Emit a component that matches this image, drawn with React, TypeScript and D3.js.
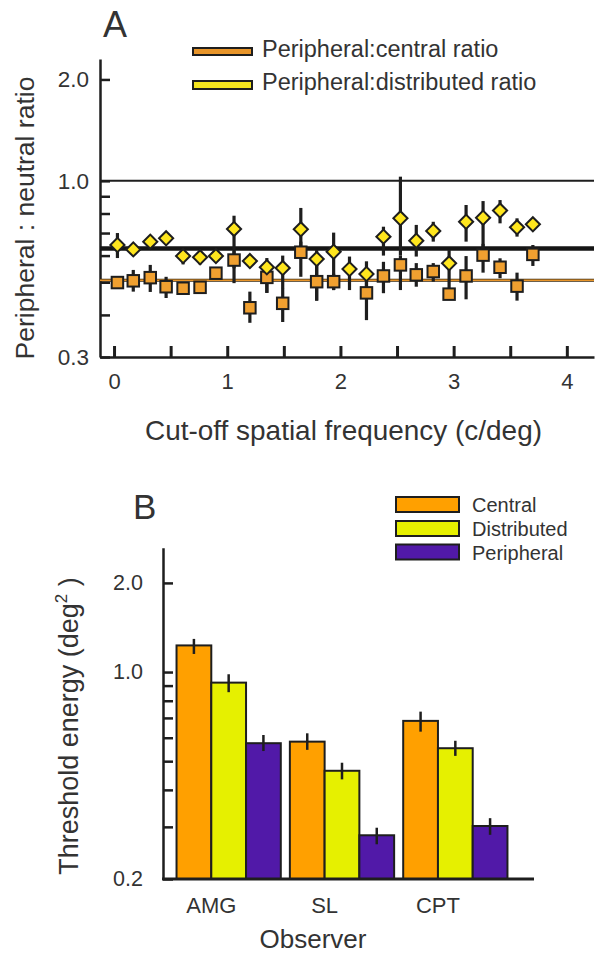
import React, { useEffect, useRef } from 'react';
import * as d3 from 'd3';

const FONT = '"Liberation Sans", Arial, Helvetica, sans-serif';
const INK = '#1e1e1e';
const TEXT = '#333';

// ---- panel A: peripheral : neutral ratio vs cut-off frequency ----
const cutoffs = [0.03, 0.17, 0.32, 0.46, 0.61, 0.76, 0.9, 1.06, 1.2, 1.35, 1.49, 1.65, 1.79, 1.94, 2.08, 2.23, 2.38, 2.53, 2.67, 2.82, 2.96, 3.11, 3.26, 3.41, 3.56, 3.7];

// peripheral:central (squares), null = not measured
const centralRatio = [0.499, 0.505, 0.516, 0.485, 0.48, 0.483, 0.532, 0.582, 0.42, 0.517, 0.433, 0.614, 0.502, 0.502, null, 0.465, 0.522, 0.563, 0.526, 0.538, 0.461, 0.522, 0.602, 0.554, 0.487, 0.605];
const centralLo = [0.49, 0.469, 0.468, 0.449, 0.47, 0.475, 0.52, 0.55, 0.379, 0.465, 0.381, 0.519, 0.441, 0.474, null, 0.386, 0.464, 0.474, 0.485, 0.502, 0.443, 0.445, 0.534, 0.514, 0.441, 0.559];
const centralHi = [0.51, 0.544, 0.563, 0.519, 0.49, 0.49, 0.54, 0.62, 0.469, 0.54, 0.481, 0.66, 0.57, 0.53, null, 0.5, 0.575, 0.6, 0.57, 0.57, 0.48, 0.598, 0.65, 0.589, 0.534, 0.645];

// peripheral:distributed (diamonds)
const distRatio = [0.645, 0.626, 0.66, 0.675, 0.598, 0.593, 0.598, 0.72, 0.578, 0.554, 0.551, 0.718, 0.586, 0.616, 0.547, 0.529, 0.683, 0.774, 0.664, 0.71, 0.569, 0.756, 0.777, 0.816, 0.728, 0.743];
const distLo = [0.59, 0.61, 0.64, 0.66, 0.565, 0.565, 0.58, 0.497, 0.56, 0.465, 0.48, 0.62, 0.441, 0.474, 0.474, 0.45, 0.6, 0.6, 0.596, 0.66, 0.48, 0.66, 0.62, 0.748, 0.683, 0.72];
const distHi = [0.7, 0.64, 0.68, 0.69, 0.61, 0.61, 0.61, 0.788, 0.59, 0.59, 0.6, 0.831, 0.623, 0.702, 0.596, 0.577, 0.731, 1.029, 0.74, 0.756, 0.623, 0.848, 0.871, 0.877, 0.774, 0.76];

const distMean = 0.63;
const centralMean = 0.507;

const xTicksA = [0, 0.5, 1, 1.5, 2, 2.5, 3, 3.5, 4];
const yTicksA = [0.3, 0.4, 0.5, 0.6, 0.7, 0.8, 0.9, 1, 2];
const yLabelsA = [0.3, 1, 2];
const legendA = ['Peripheral:central ratio', 'Peripheral:distributed ratio'];

// ---- panel B: threshold energy per observer ----
const observers = ['AMG', 'SL', 'CPT'];
const conditions = ['Central', 'Distributed', 'Peripheral'];
const energy = [
  [1.23, 0.582, 0.684],
  [0.921, 0.464, 0.553],
  [0.575, 0.281, 0.302],
];
const energyLo = [
  [1.151, 0.546, 0.629],
  [0.855, 0.434, 0.521],
  [0.541, 0.262, 0.282],
];
const energyHi = [
  [1.294, 0.621, 0.735],
  [0.983, 0.494, 0.586],
  [0.613, 0.298, 0.321],
];
const yTicksB = [0.2, 0.3, 0.4, 0.5, 0.6, 0.7, 0.8, 0.9, 1, 2];
const yLabelsB = [0.2, 1, 2];

const colorsB = ['#FFA000', '#E6F000', '#5119A8'];
const squareFill = '#F0A030';
const diamondFill = '#FFE61E';

const styleAxis = (g, fontSize) => {
  g.attr('font-family', FONT).attr('font-size', fontSize);
  g.select('.domain').attr('stroke', INK).attr('stroke-width', 2.5);
  g.selectAll('.tick line').attr('stroke', INK).attr('stroke-width', 2.5);
  g.selectAll('.tick text').attr('fill', TEXT);
};

const App = () => {
  const chartRef = useRef(null);

  useEffect(() => {
    drawChart();
  }, []);

  const drawChart = () => {
    const svg = d3.select(chartRef.current);
    svg.selectAll('*').remove();

    // ================= panel A =================
    const x = d3.scaleLinear().domain([-0.124, 4.24]).range([100, 594]);
    const y = d3.scaleLog().domain([0.3, 2.3]).range([357, 59]);

    svg.append('text')
      .attr('x', 103).attr('y', 37)
      .attr('font-family', FONT).attr('font-size', 36).attr('fill', TEXT)
      .text('A');

    const gx = svg.append('g')
      .attr('transform', `translate(0,${y(0.3)})`)
      .call(d3.axisBottom(x).tickValues(xTicksA).tickSizeInner(-11).tickSizeOuter(0).tickPadding(16)
        .tickFormat(d => (Number.isInteger(d) ? String(d) : '')));
    styleAxis(gx, 22);
    gx.selectAll('.tick line').attr('stroke-width', 3);

    const gy = svg.append('g')
      .attr('transform', `translate(${x.range()[0]},0)`)
      .call(d3.axisLeft(y).tickValues(yTicksA).tickSizeInner(-10).tickSizeOuter(0).tickPadding(11)
        .tickFormat(d => (yLabelsA.includes(d) ? d.toFixed(1) : '')));
    styleAxis(gy, 22.5);

    // reference line at 1.0
    svg.append('line')
      .attr('x1', x.range()[0]).attr('x2', x.range()[1])
      .attr('y1', y(1)).attr('y2', y(1))
      .attr('stroke', INK).attr('stroke-width', 2);

    // mean ratio lines
    svg.append('line')
      .attr('x1', x.range()[0]).attr('x2', x.range()[1])
      .attr('y1', y(distMean)).attr('y2', y(distMean))
      .attr('stroke', '#151515').attr('stroke-width', 4.5);
    svg.append('line')
      .attr('x1', x.range()[0]).attr('x2', x.range()[1])
      .attr('y1', y(centralMean)).attr('y2', y(centralMean))
      .attr('stroke', '#3a2a10').attr('stroke-width', 3.2);
    svg.append('line')
      .attr('x1', x.range()[0]).attr('x2', x.range()[1])
      .attr('y1', y(centralMean)).attr('y2', y(centralMean))
      .attr('stroke', '#E8952A').attr('stroke-width', 1.4);

    const pts = cutoffs.map((f, i) => ({
      f,
      c: centralRatio[i], cLo: centralLo[i], cHi: centralHi[i],
      d: distRatio[i], dLo: distLo[i], dHi: distHi[i],
    }));

    // error bars
    svg.append('g').selectAll('line.eb-d')
      .data(pts)
      .enter().append('line')
      .attr('x1', d => x(d.f)).attr('x2', d => x(d.f))
      .attr('y1', d => y(d.dLo)).attr('y2', d => y(d.dHi))
      .attr('stroke', INK).attr('stroke-width', 3.2);
    svg.append('g').selectAll('line.eb-c')
      .data(pts.filter(d => d.c != null))
      .enter().append('line')
      .attr('x1', d => x(d.f)).attr('x2', d => x(d.f))
      .attr('y1', d => y(d.cLo)).attr('y2', d => y(d.cHi))
      .attr('stroke', INK).attr('stroke-width', 3.2);

    // squares
    const sq = 11.5;
    svg.append('g').selectAll('rect')
      .data(pts.filter(d => d.c != null))
      .enter().append('rect')
      .attr('x', d => x(d.f) - sq / 2).attr('y', d => y(d.c) - sq / 2)
      .attr('width', sq).attr('height', sq)
      .attr('fill', squareFill).attr('stroke', INK).attr('stroke-width', 2);

    // diamonds
    const diamond = d3.symbol().type(d3.symbolSquare).size(100);
    svg.append('g').selectAll('path')
      .data(pts)
      .enter().append('path')
      .attr('d', diamond)
      .attr('transform', d => `translate(${x(d.f)},${y(d.d)}) rotate(45)`)
      .attr('fill', diamondFill).attr('stroke', INK).attr('stroke-width', 2);

    // legend A
    const legA = svg.append('g');
    [['#E8952A', 48, 7], ['#F5E51E', 81, 8]].forEach(([c, top, h], i) => {
      legA.append('rect')
        .attr('x', 193).attr('y', top).attr('width', 59).attr('height', h)
        .attr('fill', c).attr('stroke', INK).attr('stroke-width', 2);
      legA.append('text')
        .attr('x', 262).attr('y', i === 0 ? 57 : 89.5)
        .attr('font-family', FONT).attr('font-size', 23.5).attr('fill', TEXT)
        .text(legendA[i]);
    });

    svg.append('text')
      .attr('x', 343.5).attr('y', 440)
      .attr('text-anchor', 'middle')
      .attr('font-family', FONT).attr('font-size', 27.5).attr('fill', TEXT)
      .attr('textLength', 397).attr('lengthAdjust', 'spacingAndGlyphs')
      .text('Cut-off spatial frequency (c/deg)');

    svg.append('text')
      .attr('transform', 'translate(34,218) rotate(-90)')
      .attr('text-anchor', 'middle')
      .attr('font-family', FONT).attr('font-size', 26.5).attr('fill', TEXT)
      .text('Peripheral : neutral ratio');

    // ================= panel B =================
    const yB = d3.scaleLog().domain([0.2, 2.63]).range([879, 547.7]);
    const xg = d3.scaleBand().domain(observers).range([172, 512]).paddingInner(0.08).paddingOuter(0.04);
    const xs = d3.scaleBand().domain(conditions).range([0, xg.bandwidth()]);

    svg.append('text')
      .attr('x', 133).attr('y', 519)
      .attr('font-family', FONT).attr('font-size', 35).attr('fill', TEXT)
      .text('B');

    const bars = [];
    conditions.forEach((c, ci) => {
      observers.forEach((o, oi) => {
        bars.push({ o, c, ci, v: energy[ci][oi], lo: energyLo[ci][oi], hi: energyHi[ci][oi] });
      });
    });

    svg.append('g').selectAll('rect')
      .data(bars)
      .enter().append('rect')
      .attr('x', d => xg(d.o) + xs(d.c))
      .attr('y', d => yB(d.v))
      .attr('width', xs.bandwidth())
      .attr('height', d => yB(0.2) - yB(d.v))
      .attr('fill', d => colorsB[d.ci])
      .attr('stroke', INK).attr('stroke-width', 2);

    svg.append('g').selectAll('line')
      .data(bars)
      .enter().append('line')
      .attr('x1', d => xg(d.o) + xs(d.c) + xs.bandwidth() / 2)
      .attr('x2', d => xg(d.o) + xs(d.c) + xs.bandwidth() / 2)
      .attr('y1', d => yB(d.lo)).attr('y2', d => yB(d.hi))
      .attr('stroke', INK).attr('stroke-width', 2.5);

    const gyB = svg.append('g')
      .attr('transform', 'translate(163,0)')
      .call(d3.axisLeft(yB).tickValues(yTicksB).tickSizeInner(-10).tickSizeOuter(0).tickPadding(20)
        .tickFormat(d => (yLabelsB.includes(d) ? d.toFixed(1) : '')));
    styleAxis(gyB, 21.5);

    svg.append('line')
      .attr('x1', 162).attr('x2', 534)
      .attr('y1', yB(0.2)).attr('y2', yB(0.2))
      .attr('stroke', INK).attr('stroke-width', 3);

    svg.append('g').selectAll('text')
      .data(observers)
      .enter().append('text')
      .attr('x', d => xg(d) + xs.bandwidth())
      .attr('y', 913)
      .attr('text-anchor', 'middle')
      .attr('font-family', FONT).attr('font-size', 22).attr('fill', TEXT)
      .text(d => d);

    svg.append('text')
      .attr('x', 313).attr('y', 948)
      .attr('text-anchor', 'middle')
      .attr('font-family', FONT).attr('font-size', 26).attr('fill', TEXT)
      .text('Observer');

    const yl = svg.append('text')
      .attr('transform', 'translate(78,726) rotate(-90)')
      .attr('text-anchor', 'middle')
      .attr('font-family', FONT).attr('font-size', 27).attr('fill', TEXT);
    yl.append('tspan').text('Threshold energy (deg');
    yl.append('tspan').attr('dy', -11).attr('font-size', 17).text('2');
    yl.append('tspan').attr('dy', 11).text(' )');

    // legend B
    const legB = svg.append('g');
    conditions.forEach((c, i) => {
      const top = [497, 521, 544.5][i];
      legB.append('rect')
        .attr('x', 396).attr('y', top).attr('width', 63).attr('height', 15)
        .attr('fill', colorsB[i]).attr('stroke', INK).attr('stroke-width', 2);
      legB.append('text')
        .attr('x', 472).attr('y', top + 15)
        .attr('font-family', FONT).attr('font-size', 20).attr('fill', TEXT)
        .text(c);
    });
  };

  return (
    <svg
      ref={chartRef}
      width={598}
      height={956}
      style={{ position: 'absolute', left: 0, top: 0, background: '#fff' }}
    />
  );
};

export default App;
